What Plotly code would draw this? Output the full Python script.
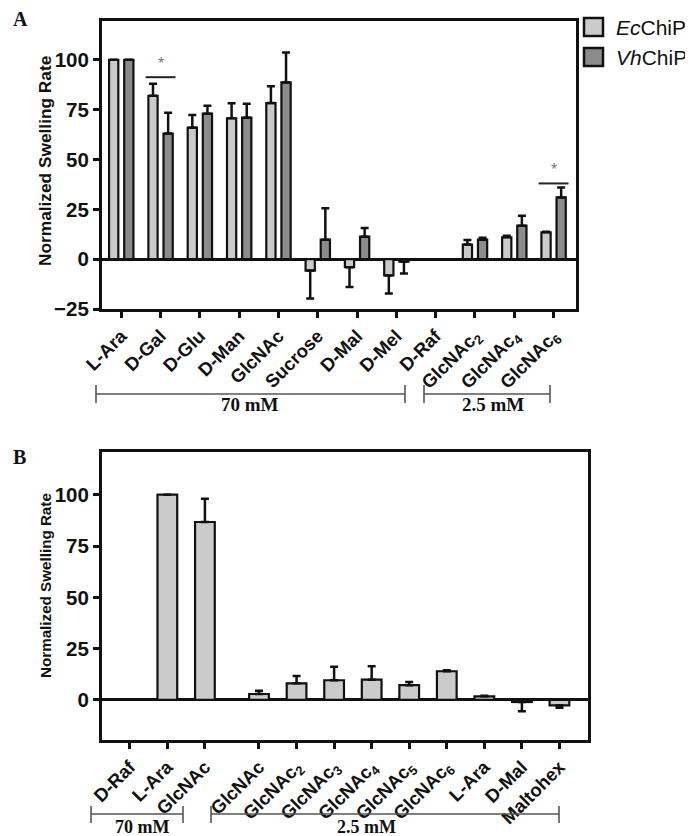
import plotly.graph_objects as go

W, H = 693, 836

# ---------------- Data ----------------
# Panel A
a_categories = ["L-Ara", "D-Gal", "D-Glu", "D-Man", "GlcNAc", "Sucrose", "D-Mal",
                "D-Mel", "D-Raf", "GlcNAc<sub>2</sub>", "GlcNAc<sub>4</sub>", "GlcNAc<sub>6</sub>"]
a_ec = [100, 82, 66, 70.7, 78.3, -5.7, -4.0, -8.2, None, 7.3, 11.0, 13.5]
a_ec_err = [0, 6.0, 6.3, 7.5, 8.5, 14.0, 10.0, 9.0, None, 2.3, 0.7, 0.3]
a_vh = [100, 63, 73, 71, 88.7, 9.8, 11.3, -1.2, None, 9.8, 16.8, 31.0]
a_vh_err = [0, 10.5, 4.0, 7.0, 15.0, 15.7, 4.4, 6.0, None, 1.0, 5.0, 5.0]
a_yticks = [-25, 0, 25, 50, 75, 100]

# Panel B
b_categories = ["D-Raf", "L-Ara", "GlcNAc", "GlcNAc", "GlcNAc<sub>2</sub>", "GlcNAc<sub>3</sub>",
                "GlcNAc<sub>4</sub>", "GlcNAc<sub>5</sub>", "GlcNAc<sub>6</sub>", "L-Ara", "D-Mal", "Maltohex"]
b_vals = [None, 100, 86.7, 2.9, 8.1, 9.6, 9.9, 7.2, 14.0, 1.8, -1.0, -2.6]
b_err = [None, 0, 11.3, 1.6, 3.6, 6.6, 6.5, 1.6, 0.5, 0.3, 4.5, 1.2]
b_yticks = [0, 25, 50, 75, 100]

series_names = ["<i>Ec</i>ChiP", "<i>Vh</i>ChiP"]
group_labels_a = ["70 mM", "2.5 mM"]
group_labels_b = ["70 mM", "2.5 mM"]

# ---------------- Styles ----------------
EC_COLOR = "#cbcbcb"
VH_COLOR = "#8c8c8c"
LINE = "#111111"
SANS = "Liberation Sans"
SERIF = "Liberation Serif"


def up(vals, errs):
    return [(e if (v is not None and v >= 0) else 0) if e is not None else 0 for v, e in zip(vals, errs)]


def down(vals, errs):
    return [(e if (v is not None and v < 0) else 0) if e is not None else 0 for v, e in zip(vals, errs)]


def px(x):
    return x / W


def py(y):
    return 1 - y / H


fig = go.Figure()

a_x = list(range(len(a_categories)))
# B has a wider gap between the 70 mM and the 2.5 mM groups
b_gap = 0.44
b_x = [i + (b_gap if i >= 3 else 0) for i in range(len(b_categories))]

bar_line = dict(color=LINE, width=2.2)
err_style = dict(type="data", symmetric=False, color=LINE, thickness=2.5, width=4)

fig.add_trace(go.Bar(
    x=a_x, y=a_ec, width=0.235, offset=-0.31, marker=dict(color=EC_COLOR, line=bar_line),
    error_y=dict(array=up(a_ec, a_ec_err), arrayminus=down(a_ec, a_ec_err), **err_style),
    xaxis="x", yaxis="y", showlegend=False, name="EcChiP"))
fig.add_trace(go.Bar(
    x=a_x, y=a_vh, width=0.235, offset=0.075, marker=dict(color=VH_COLOR, line=bar_line),
    error_y=dict(array=up(a_vh, a_vh_err), arrayminus=down(a_vh, a_vh_err), **err_style),
    xaxis="x", yaxis="y", showlegend=False, name="VhChiP"))
fig.add_trace(go.Bar(
    x=b_x, y=b_vals, width=0.525, marker=dict(color=EC_COLOR, line=bar_line),
    error_y=dict(array=up(b_vals, b_err), arrayminus=down(b_vals, b_err), **err_style),
    xaxis="x2", yaxis="y2", showlegend=False, name="EcChiP"))

tickfont = dict(family=SANS, size=20.5, color="#111", weight="bold")
xtickfont = dict(family=SANS, size=18.5, color="#111", weight="bold")
axis_common = dict(showline=True, linecolor=LINE, linewidth=3, mirror=True, showgrid=False,
                   ticks="outside", tickcolor=LINE, tickwidth=2.5, ticklen=6, automargin=False)

fig.update_layout(
    width=W, height=H, margin=dict(l=0, r=0, t=0, b=0, autoexpand=False),
    paper_bgcolor="white", plot_bgcolor="white", barmode="overlay",
    xaxis=dict(domain=[px(94), px(568)], range=[-0.49, 11.57], tickmode="array",
               tickvals=a_x, ticktext=a_categories, tickangle=-45, tickfont=xtickfont,
               anchor="y", zeroline=False, **axis_common),
    yaxis=dict(domain=[py(301), py(13)], range=[-25, 119.5], tickmode="array",
               tickvals=a_yticks, tickfont=tickfont, anchor="x",
               zeroline=True, zerolinecolor=LINE, zerolinewidth=2.5, **axis_common),
    xaxis2=dict(domain=[px(94), px(580)], range=[-0.74, 12.2], tickmode="array",
                tickvals=b_x, ticktext=b_categories, tickangle=-45, tickfont=xtickfont,
                anchor="y2", zeroline=False, **axis_common),
    yaxis2=dict(domain=[py(732), py(444)], range=[-19.5, 120.8], tickmode="array",
                tickvals=b_yticks, tickfont=tickfont, anchor="x2",
                zeroline=True, zerolinecolor=LINE, zerolinewidth=2.5, **axis_common),
)

shapes = []
ann = []

# Panel letters
ann.append(dict(x=px(3), y=py(11.5), xref="paper", yref="paper", text="A", showarrow=False,
                xanchor="left", yanchor="middle", font=dict(family=SERIF, size=20, color="#111", weight="bold")))
ann.append(dict(x=px(3), y=py(449), xref="paper", yref="paper", text="B", showarrow=False,
                xanchor="left", yanchor="middle", font=dict(family=SERIF, size=20, color="#111", weight="bold")))

# Y titles
ann.append(dict(x=px(37), y=py(153), xref="paper", yref="paper", text="Normalized Swelling Rate",
                textangle=-90, showarrow=False, xanchor="center", yanchor="middle",
                font=dict(family=SANS, size=17.3, color="#111", weight="bold")))
ann.append(dict(x=px(37), y=py(578), xref="paper", yref="paper", text="Normalized Swelling Rate",
                textangle=-90, showarrow=False, xanchor="center", yanchor="middle",
                font=dict(family=SANS, size=15.2, color="#111", weight="bold")))

# Legend (panel A)
for i, (name, col) in enumerate(zip(series_names, [EC_COLOR, VH_COLOR])):
    y0 = 10 + i * 30
    shapes.append(dict(type="rect", xref="paper", yref="paper", x0=px(576), x1=px(595),
                       y0=py(y0 + 18), y1=py(y0), fillcolor=col, line=dict(color=LINE, width=2.5)))
    ann.append(dict(x=px(606), y=py(y0 + 9.5), xref="paper", yref="paper", text=name, showarrow=False,
                    xanchor="left", yanchor="middle", font=dict(family=SANS, size=21, color="#111")))

# Significance brackets (panel A), in data coords
sig_color = "#222222"
for cat, yv in [(1, 91.3), (11, 38)]:
    shapes.append(dict(type="line", xref="x", yref="y", x0=cat - 0.38, x1=cat + 0.38, y0=yv, y1=yv,
                       line=dict(color=sig_color, width=2)))
    ann.append(dict(x=cat, y=yv + 1.5, xref="x", yref="y", text="*", showarrow=False,
                    xanchor="center", yanchor="bottom", font=dict(family=SANS, size=16, color="#777")))


def bracket(x0, x1, yline, ytop, ybot, label, xlabel, ylabel, size):
    shapes.append(dict(type="line", xref="paper", yref="paper", x0=px(x0), x1=px(x1),
                       y0=py(yline), y1=py(yline), line=dict(color="#555", width=1.6)))
    for xx in (x0, x1):
        shapes.append(dict(type="line", xref="paper", yref="paper", x0=px(xx), x1=px(xx),
                           y0=py(ytop), y1=py(ybot), line=dict(color="#555", width=1.6)))
    ann.append(dict(x=px(xlabel), y=py(ylabel), xref="paper", yref="paper", text=label, showarrow=False,
                    xanchor="center", yanchor="middle",
                    font=dict(family=SERIF, size=size, color="#111", weight="bold")))


bracket(88, 397, 386, 377, 395, group_labels_a[0], 242, 397, 19)
bracket(416, 542, 386, 377, 395, group_labels_a[1], 485, 397, 19)
bracket(83, 175, 806, 798, 815, group_labels_b[0], 134, 819, 18)
bracket(203, 551, 806, 798, 815, group_labels_b[1], 358, 819, 18)

fig.update_layout(shapes=shapes, annotations=ann)
fig.write_html("out.html")
